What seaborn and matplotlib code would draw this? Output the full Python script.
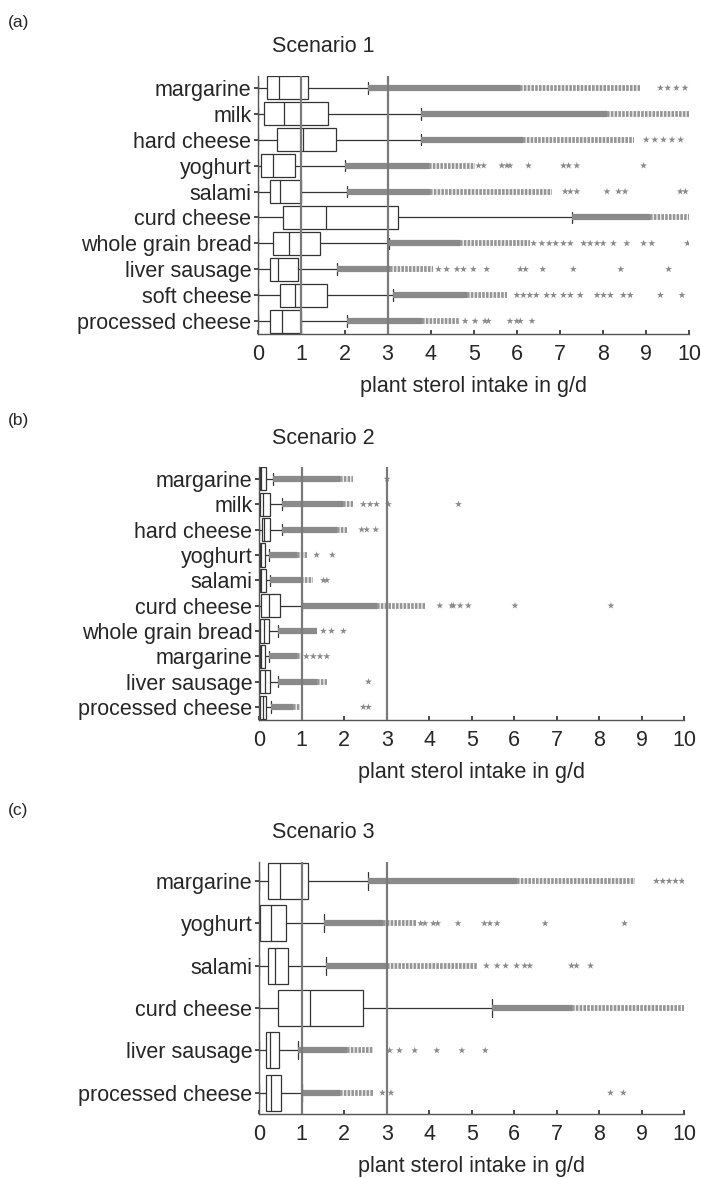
import numpy as np
import pandas as pd
import seaborn as sns
import matplotlib.pyplot as plt

# ---- data (g/d) ----
ref_lines = [1, 3]

a_labels = ["margarine", "milk", "hard cheese", "yoghurt", "salami", "curd cheese",
            "whole grain bread", "liver sausage", "soft cheese", "processed cheese"]
a_lo = [0, 0, 0, 0, 0, 0, 0, 0, 0, 0]
a_q1 = [0.21, 0.14, 0.44, 0.06, 0.26, 0.57, 0.33, 0.26, 0.50, 0.26]
a_med = [0.48, 0.60, 1.03, 0.35, 0.50, 1.57, 0.71, 0.45, 0.85, 0.56]
a_q3 = [1.16, 1.61, 1.80, 0.86, 0.99, 3.25, 1.43, 0.93, 1.59, 0.99]
a_hi = [2.55, 3.77, 3.77, 2.01, 2.05, 7.28, 3.04, 1.83, 3.12, 2.05]
a_dense_end = [6.08, 8.09, 6.15, 3.95, 3.99, 9.09, 4.68, 3.06, 4.84, 3.80]
a_loose_end = [8.86, 10.0, 8.71, 5.03, 6.81, 10.0, 6.31, 4.06, 5.77, 4.68]
a_sparse = [
    [9.33, 9.5, 9.7, 9.9],
    [],
    [9.0, 9.2, 9.4, 9.6, 9.8],
    [5.11, 5.23, 5.65, 5.77, 5.84, 6.27, 7.08, 7.2, 7.39, 8.94],
    [7.12, 7.24, 7.39, 8.09, 8.36, 8.51, 9.79, 9.91],
    [],
    [6.39, 6.58, 6.75, 6.9, 7.08, 7.24, 7.55, 7.7, 7.86, 8.0, 8.24, 8.55, 8.94, 9.13, 9.96],
    [4.18, 4.37, 4.61, 4.76, 4.99, 5.3, 6.08, 6.2, 6.6, 7.31, 8.41, 9.52],
    [6.0, 6.15, 6.3, 6.45, 6.69, 6.85, 7.08, 7.24, 7.47, 7.86, 8.01, 8.17, 8.47, 8.63, 9.33, 9.83],
    [4.8, 5.03, 5.26, 5.34, 5.84, 6.0, 6.08, 6.35],
]

b_labels = ["margarine", "milk", "hard cheese", "yoghurt", "salami", "curd cheese",
            "whole grain bread", "margarine", "liver sausage", "processed cheese"]
b_lo = [0, 0, 0, 0, 0, 0, 0, 0, 0, 0]
b_q1 = [0.02, 0.02, 0.06, 0.02, 0.02, 0.03, 0.02, 0.02, 0.02, 0.02]
b_med = [0.05, 0.08, 0.10, 0.05, 0.05, 0.24, 0.12, 0.05, 0.13, 0.08]
b_q3 = [0.16, 0.25, 0.26, 0.13, 0.16, 0.49, 0.22, 0.13, 0.25, 0.16]
b_hi = [0.33, 0.53, 0.53, 0.24, 0.25, 1.00, 0.43, 0.24, 0.45, 0.27]
b_dense_end = [1.90, 1.98, 1.82, 0.88, 0.98, 2.76, 1.35, 0.88, 1.35, 0.80]
b_loose_end = [2.21, 2.20, 2.06, 1.13, 1.27, 3.90, 1.35, 1.00, 1.59, 0.96]
b_sparse = [
    [3.01],
    [2.45, 2.61, 2.76, 3.04, 4.69],
    [2.41, 2.53, 2.74],
    [1.35, 1.72],
    [1.51, 1.59],
    [4.25, 4.53, 4.57, 4.73, 4.92, 6.02, 8.28],
    [1.51, 1.70, 1.98],
    [1.11, 1.27, 1.43, 1.59],
    [2.57],
    [2.45, 2.57],
]

c_labels = ["margarine", "yoghurt", "salami", "curd cheese", "liver sausage", "processed cheese"]
c_lo = [0, 0, 0, 0, 0, 0]
c_q1 = [0.21, 0.02, 0.21, 0.43, 0.16, 0.16]
c_med = [0.49, 0.27, 0.37, 1.19, 0.25, 0.27]
c_q3 = [1.15, 0.64, 0.68, 2.45, 0.47, 0.50]
c_hi = [2.57, 1.52, 1.56, 5.47, 0.92, 1.01]
c_dense_end = [6.06, 2.92, 3.00, 7.36, 2.06, 1.90]
c_loose_end = [8.85, 3.71, 5.12, 10.0, 2.68, 2.68]
c_sparse = [
    [9.35, 9.5, 9.65, 9.8, 9.95],
    [3.8, 3.9, 4.1, 4.2, 4.68, 5.3, 5.43, 5.6, 6.73, 8.6],
    [5.35, 5.6, 5.8, 6.06, 6.25, 6.37, 7.35, 7.47, 7.8],
    [],
    [3.07, 3.3, 3.66, 4.18, 4.77, 5.32],
    [2.9, 3.1, 8.27, 8.57],
]

sns.set_theme(style="ticks")
plt.rcParams["font.family"] = ["Liberation Sans", "DejaVu Sans"]

GREY = "#8a8a8a"
DARK = "#333333"


def draw_panel(ax, labels, lo, q1, med, q3, hi, dense_end, loose_end, sparse, box_w, ylim):
    n = len(labels)
    # five numbers per row -> seaborn computes exactly these quartiles, whiskers to min/max
    rows = []
    for i in range(n):
        for v in (lo[i], q1[i], med[i], q3[i], hi[i]):
            rows.append((i, v))
    df = pd.DataFrame(rows, columns=["row", "intake"])
    sns.boxplot(data=df, x="intake", y="row", orient="h", whis=(0, 100), width=box_w,
                color="white", linecolor=DARK, linewidth=0.9, ax=ax)

    idx = np.arange(n)
    # tightly packed outliers (solid) and looser clusters (textured)
    ax.hlines(idx, hi, dense_end, color=GREY, lw=4.5, zorder=3)
    ax.hlines(idx, dense_end, loose_end, color="#969696", lw=4.2,
              linestyles=(0, (0.45, 0.2)), zorder=3)
    # isolated outliers
    pts = pd.DataFrame([(i, v) for i in range(n) for v in sparse[i]], columns=["row", "intake"])
    sns.scatterplot(data=pts, x="intake", y="row", marker="*", s=28, color=GREY,
                    edgecolor="none", ax=ax, legend=False, zorder=3)

    for r in ref_lines:
        ax.axvline(r, color="#7a7a7a", lw=1.6, zorder=6)

    ax.set_xlim(0, 10)
    ax.set_ylim(*ylim)
    ax.set_xticks(range(11))
    ax.set_yticks(idx, labels)
    ax.set_ylabel("")
    ax.set_xlabel("plant sterol intake in g/d", fontsize=15.5, labelpad=8)
    ax.tick_params(axis="x", direction="in", length=3, pad=7, labelsize=15.5, color=DARK)
    ax.tick_params(axis="y", direction="out", length=3, pad=2, labelsize=15.5, color=DARK)
    sns.despine(ax=ax)
    for s in ("left", "bottom"):
        ax.spines[s].set_color("#555555")
        ax.spines[s].set_linewidth(1.0)


fig = plt.figure(figsize=(7.01, 11.78), dpi=100)
W, H = 701, 1178


def axes_px(x0, x1, ytop, ybot):
    return fig.add_axes([x0 / W, 1 - ybot / H, (x1 - x0) / W, (ybot - ytop) / H])


ax_a = axes_px(258.3, 689.3, 76, 334)
ax_b = axes_px(259.3, 684.0, 467, 720)
ax_c = axes_px(259.3, 684.0, 862, 1114)

draw_panel(ax_a, a_labels, a_lo, a_q1, a_med, a_q3, a_hi, a_dense_end, a_loose_end, a_sparse,
           0.89, (9.5, -0.46))
draw_panel(ax_b, b_labels, b_lo, b_q1, b_med, b_q3, b_hi, b_dense_end, b_loose_end, b_sparse,
           0.91, (9.51, -0.47))
draw_panel(ax_c, c_labels, c_lo, c_q1, c_med, c_q3, c_hi, c_dense_end, c_loose_end, c_sparse,
           0.85, (5.5, -0.45))

for letter, ly, title, ty in [("(a)", 23, "Scenario 1", 47),
                              ("(b)", 420, "Scenario 2", 438),
                              ("(c)", 810, "Scenario 3", 833)]:
    fig.text(8 / W, 1 - ly / H, letter, fontsize=12.5, ha="left", va="center")
    fig.text(323 / W, 1 - ty / H, title, fontsize=15.5, ha="center", va="center")

fig.savefig("out.png", dpi=100)
